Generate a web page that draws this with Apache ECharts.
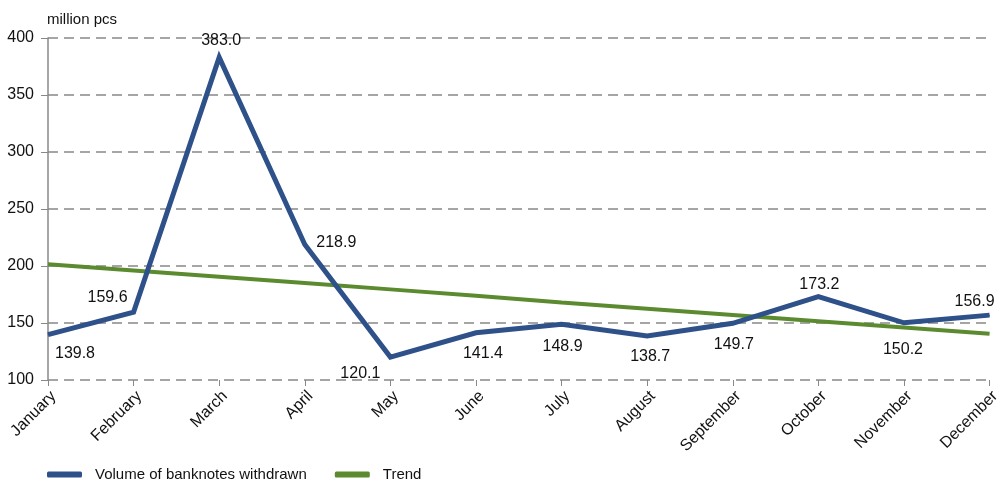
<!DOCTYPE html>
<html>
<head>
<meta charset="utf-8">
<script src="https://cdn.jsdelivr.net/npm/echarts@6/dist/echarts.min.js"></script>
<style>
  html, body { margin: 0; padding: 0; background: #fff; }
  #chart { width: 1003px; height: 480px; }
</style>
</head>
<body>
<div id="chart"></div>
<script>
const months = ["January", "February", "March", "April", "May", "June",
  "July", "August", "September", "October", "November", "December"];
const withdrawn = [139.8, 159.6, 383.0, 218.9, 120.1, 141.4, 148.9, 138.7, 149.7, 173.2, 150.2, 156.9];
const trend = [201.5, 196, 190.5, 185, 179.5, 174, 168, 162.5, 157, 151.5, 146, 140.5];
const yTicks = { min: 100, max: 400, interval: 50 };

// where each data label sits around its point
const labelPlace = [
  { position: "bottom", offset: [27, 2] },
  { position: "top", offset: [-26, 2] },
  { position: "top", offset: [2, 0] },
  { position: "right", offset: [3, -2] },
  { position: "bottom", offset: [-30, 0] },
  { position: "bottom", offset: [7, 4] },
  { position: "bottom", offset: [1, 6] },
  { position: "bottom", offset: [3, 4] },
  { position: "bottom", offset: [1, 5] },
  { position: "top", offset: [1, 5] },
  { position: "bottom", offset: [-1, 10] },
  { position: "top", offset: [-15, 3] }
];

const font = "'Liberation Sans', Arial, sans-serif";
const chart = echarts.init(document.getElementById("chart"));

chart.setOption({
  animation: false,
  textStyle: { fontFamily: font },
  title: {
    text: "million pcs",
    left: 42, top: 7,
    textStyle: { fontSize: 15, fontWeight: "normal", color: "#111", fontFamily: font }
  },
  grid: { left: 48, right: 10, top: 38, bottom: 100 },
  legend: {
    left: 42, top: 462,
    itemWidth: 35, itemHeight: 6, itemGap: 28,
    icon: "roundRect",
    textStyle: { fontSize: 15, color: "#111", fontFamily: font, padding: [0, 0, 0, 8] },
    data: ["Volume of banknotes withdrawn", "Trend"]
  },
  xAxis: {
    type: "category",
    data: months,
    boundaryGap: false,
    axisLine: { show: false },
    axisTick: { show: true, length: 6, inside: false, lineStyle: { color: "#888" } },
    axisLabel: {
      rotate: 45, fontSize: 16, color: "#111", margin: 8, interval: 0,
      align: "right", verticalAlign: "top"
    }
  },
  yAxis: {
    type: "value",
    min: yTicks.min, max: yTicks.max, interval: yTicks.interval,
    axisLine: { show: true, lineStyle: { color: "#888", width: 1.5 } },
    axisTick: { show: true, length: 7, lineStyle: { color: "#888" } },
    axisLabel: { fontSize: 16, color: "#111", margin: 14 },
    splitLine: { show: true, lineStyle: { color: "#888", type: [10, 6], width: 1.5 } }
  },
  series: [
    {
      name: "Trend",
      type: "line",
      data: trend,
      symbol: "none",
      lineStyle: { color: "#5b8a2f", width: 4 },
      itemStyle: { color: "#5b8a2f" },
      z: 2
    },
    {
      name: "Volume of banknotes withdrawn",
      type: "line",
      data: withdrawn.map((v, i) => ({
        value: v,
        label: labelPlace[i]
      })),
      symbol: "circle",
      symbolSize: 1,
      showSymbol: true,
      lineStyle: { color: "#2f5189", width: 5, join: "miter" },
      itemStyle: { color: "#2f5189" },
      label: {
        show: true,
        fontSize: 16,
        color: "#111",
        distance: 8,
        formatter: p => p.value.toFixed(1)
      },
      z: 3
    }
  ]
});
</script>
</body>
</html>
